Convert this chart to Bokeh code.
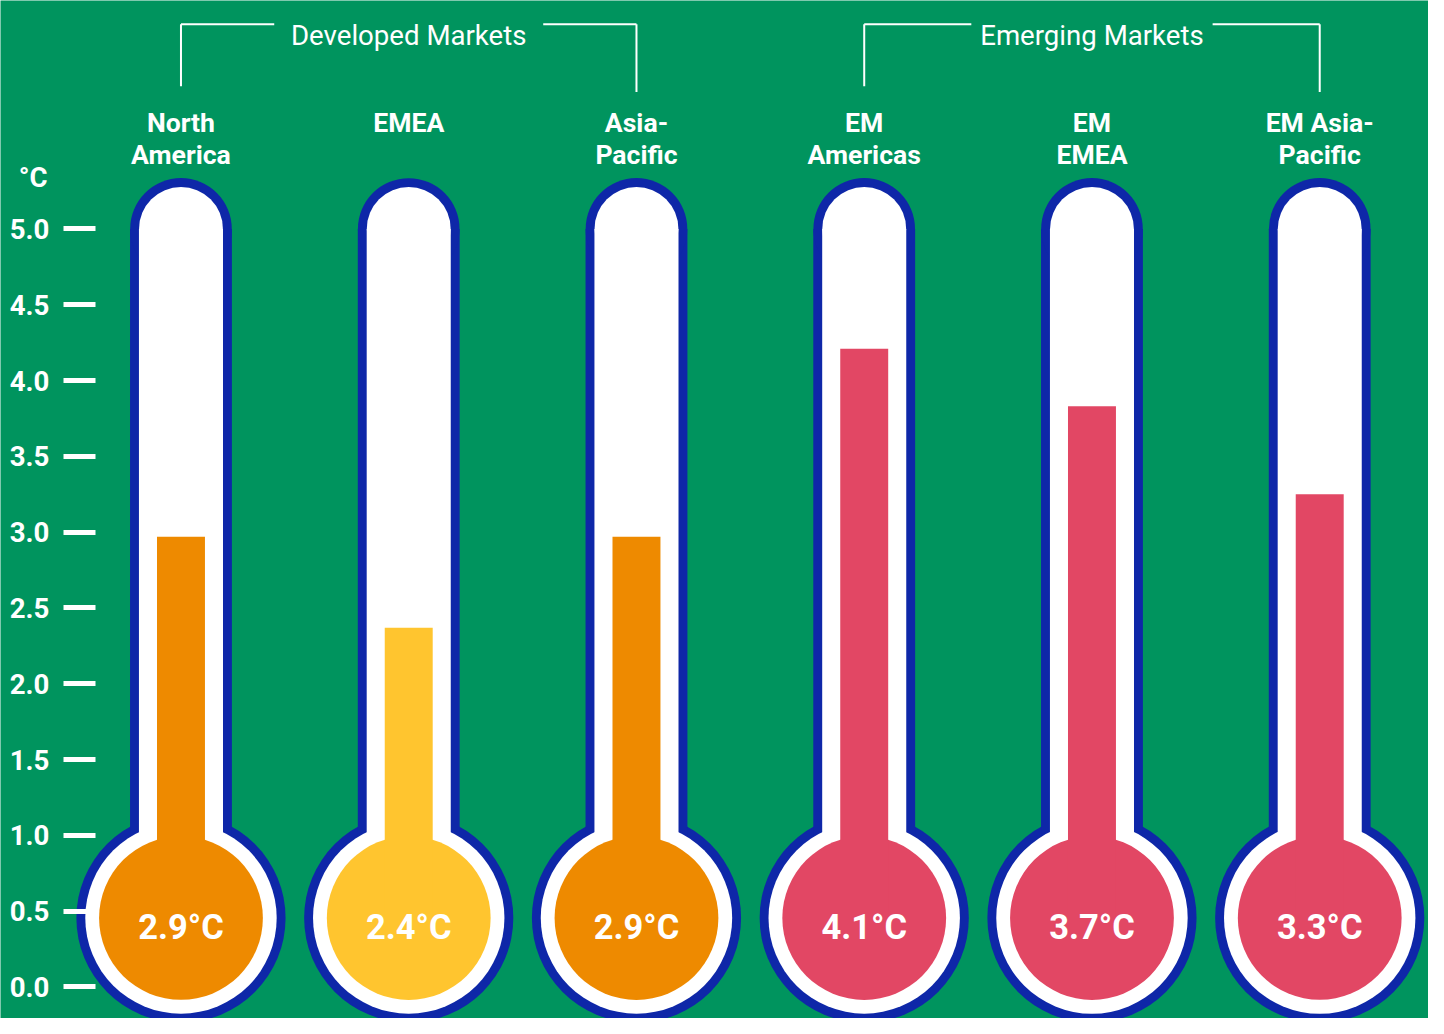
from bokeh.plotting import figure
from bokeh.models import ColumnDataSource, Range1d, LinearAxis, FixedTicker
from bokeh.core.properties import value
from bokeh.embed import file_html
from bokeh.resources import INLINE

# ---------------- data ----------------
categories = ["North America", "EMEA", "Asia-Pacific", "EM Americas", "EM EMEA", "EM Asia-Pacific"]
display_labels = ["North\nAmerica", "EMEA", "Asia-\nPacific", "EM\nAmericas", "EM\nEMEA", "EM Asia-\nPacific"]
warming = [2.9, 2.4, 2.9, 4.1, 3.7, 3.3]                 # values printed in the bulbs (°C)
fill_level = [2.97, 2.37, 2.97, 4.21, 3.83, 3.25]        # mercury height (°C)
groups = ["Developed Markets", "Emerging Markets"]
group_members = [[0, 1, 2], [3, 4, 5]]
tick_values = [0.0, 0.5, 1.0, 1.5, 2.0, 2.5, 3.0, 3.5, 4.0, 4.5, 5.0]
tick_labels = ["0.0", "0.5", "1.0", "1.5", "2.0", "2.5", "3.0", "3.5", "4.0", "4.5", "5.0"]
unit_label = "°C"
scale_top = 5.0          # top of the thermometer tube
bulb_level = 0.455       # centre of the bulb on the °C scale

# ---------------- styles ----------------
GREEN = "#00945E"
BLUE = "#0E27A8"
WHITE = "#FFFFFF"
ORANGE = "#EE8A00"
YELLOW = "#FFC52F"
RED = "#E24764"
mercury_colors = [ORANGE, YELLOW, ORANGE, RED, RED, RED]
FONT = value("Roboto")

W, H = 1428, 1018                 # figure size (fits the window with its 8px margin)
REF_W, REF_H = 1444, 1034         # design canvas the layout numbers refer to
S = (W / REF_W + H / REF_H) / 2   # screen-size scale for fonts and markers
PX_PER_X = 230.3      # design pixels per category step
PX_PER_C = 154.0      # design pixels per °C
ORIGIN_X = 182.5      # design pixel of first category centre
ZERO_Y = 1002.0       # design pixel (from top) of 0 °C


def xd(px):
    return (px - ORIGIN_X) / PX_PER_X


def yd(py):
    return (ZERO_Y - py) / PX_PER_C


def wd(px):
    return px / PX_PER_X


def fs(px):
    return f"{px * S:.1f}px"


p = figure(width=W, height=H, x_range=Range1d(xd(0), xd(REF_W)), y_range=Range1d(yd(REF_H), yd(0)),
           output_backend="svg", toolbar_location=None,
           x_axis_location=None, y_axis_location=None, min_border=0)
p.background_fill_color = GREEN
p.border_fill_color = GREEN
p.outline_line_color = None
p.xgrid.visible = False
p.ygrid.visible = False

idx = list(range(len(categories)))
src = ColumnDataSource(dict(
    x=idx,
    cat=categories,
    level=fill_level,
    base=[bulb_level] * len(idx),
    top=[scale_top] * len(idx),
    color=mercury_colors,
    label=[f"{v:.1f}°C" for v in warming],
    line1=[s.split("\n")[0] for s in display_labels],
    line2=[s.split("\n")[1] if "\n" in s else "" for s in display_labels],
))

# glass outline (blue) -> inner glass (white)
for col, bulb, tube in [(BLUE, 212, 103), (WHITE, 194, 85)]:
    p.scatter(x="x", y="base", size=bulb * S, marker="circle", fill_color=col, line_color=None, source=src)
    p.vbar(x="x", bottom="base", top="top", width=wd(tube), fill_color=col, line_color=None, source=src)
    p.scatter(x="x", y="top", size=tube * S, marker="circle", fill_color=col, line_color=None, source=src)

# mercury
p.scatter(x="x", y="base", size=166 * S, marker="circle", fill_color="color", line_color=None, source=src)
p.vbar(x="x", bottom="base", top="level", width=wd(48.5), fill_color="color", line_color=None, source=src)

# bulb values
p.text(x="x", y=yd(941.5), text="label", source=src, text_color=WHITE, text_font=FONT,
       text_font_style="bold", text_font_size=fs(35), text_align="center", text_baseline="alphabetic")

# category labels
p.text(x="x", y=yd(124), text="line1", source=src, text_color=WHITE, text_font=FONT,
       text_font_style="bold", text_font_size=fs(27), text_align="center", text_baseline="alphabetic")
p.text(x="x", y=yd(156), text="line2", source=src, text_color=WHITE, text_font=FONT,
       text_font_style="bold", text_font_size=fs(27), text_align="center", text_baseline="alphabetic")

# group headings with brackets
gap_half = [136, 122]
y_top = yd(24)
y_left_end = yd(87)
y_right_end = yd(93)
x0s, y0s, x1s, y1s = [], [], [], []
hx, hy, htext = [], [], []
for g, members, gh in zip(groups, group_members, gap_half):
    left, right = members[0], members[-1]
    mid = (left + right) / 2
    hx.append(mid)
    hy.append(yd(36))
    htext.append(g)
    x0s += [left, left, mid + wd(gh), right]
    y0s += [y_left_end, y_top, y_top, y_top]
    x1s += [left, mid - wd(gh), right, right]
    y1s += [y_top, y_top, y_top, y_right_end]
p.segment(x0=x0s, y0=y0s, x1=x1s, y1=y1s, line_color=WHITE, line_width=2)
p.text(x=hx, y=hy, text=htext, text_color=WHITE, text_font=FONT, text_font_size=fs(28),
       text_align="center", text_baseline="alphabetic")

# unit label
p.text(x=[xd(33)], y=[yd(180)], text=[unit_label], text_color=WHITE, text_font=FONT,
       text_font_style="bold", text_font_size=fs(28), text_align="center", text_baseline="alphabetic")

# y axis (ticks drawn over the glass)
yaxis = LinearAxis(fixed_location=xd(96), ticker=FixedTicker(ticks=tick_values),
                   major_label_overrides={v: s for v, s in zip(tick_values, tick_labels)})
yaxis.axis_line_color = None
yaxis.minor_tick_line_color = None
yaxis.major_tick_in = 0
yaxis.major_tick_out = round(32 * S)
yaxis.major_tick_line_color = WHITE
yaxis.major_tick_line_width = 5
yaxis.major_label_standoff = round(14 * S)
yaxis.major_label_text_color = WHITE
yaxis.major_label_text_font = "Roboto"
yaxis.major_label_text_font_style = "bold"
yaxis.major_label_text_font_size = fs(28)
p.add_layout(yaxis, "left")

open("out.html", "w").write(file_html(p, INLINE))
